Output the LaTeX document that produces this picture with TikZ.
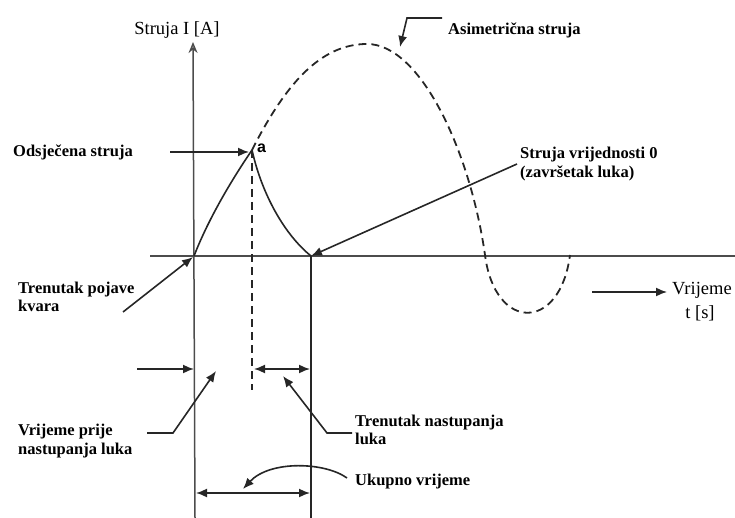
\documentclass[tikz,border=0pt]{standalone}
\usepackage{fontspec}
\setmainfont{Liberation Serif}
\newfontfamily\sansf{Liberation Sans}
\usetikzlibrary{arrows.meta}
\begin{document}
\begin{tikzpicture}[x=1pt,y=-1pt,
  lab/.style={font=\fontsize{16.5}{18.5}\selectfont\bfseries, inner sep=0pt, anchor=west, align=left},
  reg/.style={font=\fontsize{18.5}{21}\selectfont, inner sep=0pt},
  ln/.style={line width=1.6pt, draw=black!85},
  axis/.style={line width=1.5pt, draw=black!70},
  arr/.style={ln, -{Latex[length=11pt,width=9pt]}},
  darr/.style={ln, {Latex[length=11pt,width=9pt]}-{Latex[length=11pt,width=9pt]}},
  dsh/.style={line width=1.8pt, draw=black!85, dash pattern=on 8pt off 5pt}]
\useasboundingbox (0,0) rectangle (735,518);
% key points
\coordinate (O) at (194,256);
\coordinate (A) at (252,150);
\coordinate (Z) at (311,256);
\coordinate (ytop) at (193,42);
\coordinate (ybot) at (195,518);
\coordinate (zbot) at (311,518);
\coordinate (xl) at (150,256);
\coordinate (xr) at (735,256);
\coordinate (P) at (367,44);
\coordinate (C1) at (485,255);
\coordinate (C2) at (570,255);
\coordinate (Ad) at (252,390);
% axes
\draw[axis, -{Stealth[length=11pt,width=9pt,open]}] (ybot) -- (ytop);
\draw[axis] (xl) -- (xr);
\draw[ln] (Z) -- (zbot);
% current curves
\draw[ln] (O) .. controls (210,215) and (235,175) .. (A);
\draw[ln] (A) .. controls (262,195) and (285,235) .. (Z);
\draw[dsh] (A) .. controls (285,85) and (320,44) .. (P)
  .. controls (420,44) and (470,150) .. (C1)
  .. controls (495,332) and (560,332) .. (C2);
\draw[dsh] (A) -- (Ad);
% texts
\node[reg] (ylab) at (177,30) {Struja I [A]};
\node[font=\sansf\fontsize{16}{18}\selectfont\bfseries, inner sep=0pt, anchor=west] (alab) at (257,148) {a};
\node[lab] (odsj) at (13,152) {Odsječena struja};
\node[lab] (asim) at (448,30) {Asimetrična struja};
\node[lab] (nula) at (520,164) {Struja vrijednosti 0\\(završetak luka)};
\node[lab] (kvar) at (18,297) {Trenutak pojave\\kvara};
\node[lab] (prije) at (18,441) {Vrijeme prije\\nastupanja luka};
\node[lab] (nast) at (355,430) {Trenutak nastupanja\\luka};
\node[lab] (ukup) at (355,482) {Ukupno vrijeme};
\node[reg, anchor=west] (vr) at (672,290) {Vrijeme};
\node[reg] (ts) at (700,313) {t [s]};
% pointer arrows
\coordinate (odsjS) at (170,152);
\coordinate (odsjE) at (249,152);
\draw[arr] (odsjS) -- (odsjE);
\coordinate (asS) at (442,18);
\coordinate (asM) at (407,18);
\coordinate (asE) at (400,47);
\draw[arr] (asS) -- (asM) -- (asE);
\coordinate (nulS) at (517,164);
\draw[arr] (nulS) -- (Z);
\coordinate (kvS) at (123,312);
\coordinate (kvE) at (193,257);
\draw[arr] (kvS) -- (kvE);
\coordinate (vrS) at (592,292);
\coordinate (vrE) at (667,292);
\draw[arr] (vrS) -- (vrE);
% time intervals
\coordinate (lS) at (137,369);
\coordinate (lE) at (194,369);
\draw[arr] (lS) -- (lE);
\coordinate (mS) at (254,369);
\coordinate (mE) at (310,369);
\draw[darr] (mS) -- (mE);
\coordinate (bS) at (196,493);
\coordinate (bE) at (310,493);
\draw[darr] (bS) -- (bE);
\coordinate (prS) at (147,433);
\coordinate (prM) at (173,433);
\coordinate (prE) at (216,371);
\draw[arr] (prS) -- (prM) -- (prE);
\coordinate (naS) at (352,433);
\coordinate (naM) at (327,433);
\coordinate (naE) at (283,376);
\draw[arr] (naS) -- (naM) -- (naE);
\coordinate (ukS) at (347,478);
\coordinate (ukE) at (243,489);
\draw[arr] (ukS) .. controls (325,462) and (270,460) .. (ukE);
\end{tikzpicture}
\end{document}
